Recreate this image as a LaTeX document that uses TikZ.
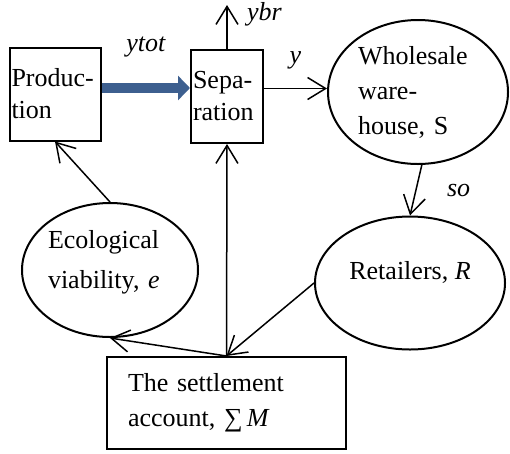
\documentclass[tikz,border=0pt]{standalone}
\usepackage{fontspec}
\setmainfont{Liberation Serif}
\usetikzlibrary{arrows.meta,shapes.geometric}
\definecolor{flowblue}{RGB}{61,95,143}
\newcommand\bigfont{\fontsize{26}{32}\selectfont}
\tikzset{
  blok/.style={rectangle, draw=black, line width=2pt, inner sep=0pt, align=left},
  ovaal/.style={ellipse, draw=black, line width=2pt, inner sep=0pt, align=left},
  line/.style={draw, line width=1.5pt, -{Straight Barb[length=18pt,width=22pt]}},
  flow/.style={draw=flowblue, line width=10pt, -{Triangle[length=12pt,width=24pt]}},
  tag/.style={font=\bigfont\itshape},
}

\begin{document}
\begin{tikzpicture}[x=1pt, y=-1pt, font=\bigfont]
  \useasboundingbox (0,0) rectangle (510,453);
  % boxes and ovals
  \node[blok, minimum width=91pt, minimum height=93pt, text width=87pt] (prod) at (55,94) {Produc-\\tion};
  \node[blok, minimum width=72pt, minimum height=93pt, text width=68pt] (sep) at (227,96.5) {Sepa-\\ration};
  \node[ovaal, minimum width=180pt, minimum height=144pt, text width=120pt] (whs) at (418,92) {Wholesale\\[3pt]ware-\\[3pt]house, S};
  \node[ovaal, minimum width=190pt, minimum height=133pt, align=center] (ret) at (410,283) {Retailers, \textit{R}\\[-16pt]\strut};
  \node[ovaal, minimum width=176pt, minimum height=134pt, text width=124pt] (eco) at (110,270) {Ecological\\[8pt]viability, \textit{e}\\[-20pt]\strut};
  \node[blok, minimum width=239pt, minimum height=92pt, text width=197pt] (set) at (226.5,403) {The settlement\\[3pt]account, ∑\,\textit{M}};
  \coordinate (top) at (227,5);
  % flows
  \draw[flow] ([yshift=6pt]prod.east) -- node[tag, above=23pt] {ytot} ([yshift=6pt]prod.east -| sep.west);
  \draw[line] (sep.north) -- node[tag, pos=0.78, right=16pt] {ybr} (top);
  \draw[line] ([yshift=8pt]sep.east) -- node[tag, above=15pt] {y} ([yshift=8pt]sep.east -| whs.west);
  \draw[line] (whs.-87) -- node[tag, right=27pt] {so} (ret.north);
  \draw[line] (ret.west) -- (set.north);
  \draw[line] (set.north) -- (sep.south);
  \draw[line] (set.north) -- (eco.south);
  \draw[line] (eco.north) -- (prod.south);
\end{tikzpicture}
\end{document}
